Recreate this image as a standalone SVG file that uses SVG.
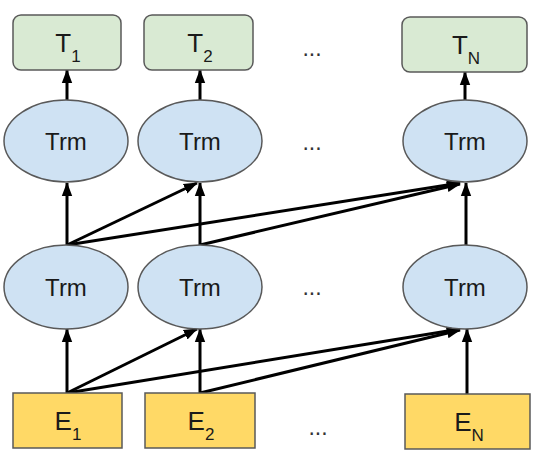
<svg xmlns="http://www.w3.org/2000/svg" width="540" height="456" viewBox="0 0 540 456">
<defs>
<style>
.t{fill:#d9ead3;stroke:#595959;stroke-width:1.5}
.e{fill:#ffd966;stroke:#595959;stroke-width:1.5}
.m{fill:#cfe2f3;stroke:#595959;stroke-width:1.5}
.lbl{font-family:"Liberation Sans",Arial,sans-serif;font-size:24px;fill:#1a1a1a;text-anchor:middle}
.big{font-size:26px}
.sub{font-size:17px}
.dots{font-family:"Liberation Sans",Arial,sans-serif;font-size:23px;fill:#333;text-anchor:middle}
.c line{stroke:#000;stroke-width:3;marker-end:url(#ah)}
</style>
<marker id="ah" markerUnits="userSpaceOnUse" markerWidth="14" markerHeight="18" viewBox="0 0 16 12" refX="15" refY="6" orient="auto">
<path d="M0,0 L16,6 L0,12 Z" fill="#000"/>
</marker>
</defs>
<rect width="540" height="456" fill="#fff"/>
<g class="c">
<line x1="67" y1="100" x2="67" y2="70"/>
<line x1="200" y1="100" x2="200" y2="70"/>
<line x1="465" y1="100" x2="465" y2="72"/>
<line x1="67" y1="245" x2="67" y2="183"/>
<line x1="67" y1="245" x2="197" y2="183"/>
<line x1="67" y1="245" x2="460" y2="183"/>
<line x1="200" y1="245" x2="200" y2="183"/>
<line x1="200" y1="245" x2="460" y2="184"/>
<line x1="466" y1="245" x2="466" y2="183"/>
<line x1="67" y1="393" x2="67" y2="329"/>
<line x1="67" y1="393" x2="197" y2="329"/>
<line x1="67" y1="393" x2="460" y2="329"/>
<line x1="200" y1="393" x2="200" y2="329"/>
<line x1="200" y1="393" x2="460" y2="330"/>
<line x1="467" y1="394" x2="467" y2="329"/>
</g>
<g id="T1"><rect class="t" x="13" y="15" width="108" height="55" rx="8"/><text class="lbl big" x="68" y="52">T<tspan class="sub" dy="10">1</tspan></text></g>
<g id="T2"><rect class="t" x="144" y="15" width="109" height="55" rx="8"/><text class="lbl big" x="200" y="52">T<tspan class="sub" dy="10">2</tspan></text></g>
<g id="TN"><rect class="t" x="402" y="17" width="125" height="55" rx="8"/><text class="lbl big" x="466" y="54">T<tspan class="sub" dy="10">N</tspan></text></g>
<g id="U1"><ellipse class="m" cx="66" cy="141" rx="62" ry="41"/><text class="lbl" x="66" y="150">Trm</text></g>
<g id="U2"><ellipse class="m" cx="200" cy="141" rx="62" ry="41"/><text class="lbl" x="200" y="150">Trm</text></g>
<g id="UN"><ellipse class="m" cx="465" cy="141" rx="62" ry="41"/><text class="lbl" x="465" y="150">Trm</text></g>
<g id="L1"><ellipse class="m" cx="66" cy="287" rx="62" ry="42"/><text class="lbl" x="66" y="296">Trm</text></g>
<g id="L2"><ellipse class="m" cx="200" cy="287" rx="62" ry="42"/><text class="lbl" x="200" y="296">Trm</text></g>
<g id="LN"><ellipse class="m" cx="465" cy="287" rx="62" ry="42"/><text class="lbl" x="465" y="296">Trm</text></g>
<g id="E1"><rect class="e" x="13" y="393" width="109" height="55"/><text class="lbl big" x="68" y="430">E<tspan class="sub" dy="10">1</tspan></text></g>
<g id="E2"><rect class="e" x="145" y="393" width="110" height="55"/><text class="lbl big" x="201" y="430">E<tspan class="sub" dy="10">2</tspan></text></g>
<g id="EN"><rect class="e" x="405" y="394" width="125" height="55"/><text class="lbl big" x="469" y="431">E<tspan class="sub" dy="10">N</tspan></text></g>
<text class="dots" x="312" y="56">...</text>
<text class="dots" x="312" y="150">...</text>
<text class="dots" x="312" y="295">...</text>
<text class="dots" x="318" y="435">...</text>
</svg>
